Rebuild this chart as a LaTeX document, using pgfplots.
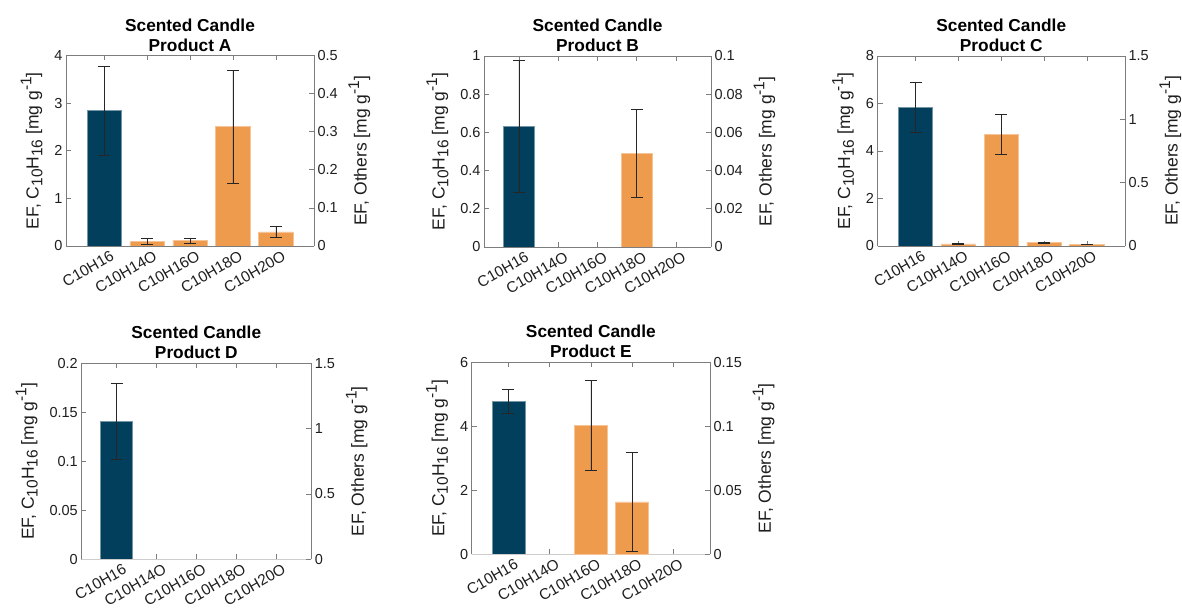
\documentclass[border=0pt]{standalone}
\usepackage{fontspec}
\setmainfont{Liberation Sans}
\usepackage{pgfplots}
\pgfplotsset{compat=1.18}
\definecolor{cblue}{RGB}{2,63,92}
\definecolor{corange}{RGB}{238,155,78}
\definecolor{axgray}{RGB}{125,125,125}
\definecolor{basegray}{RGB}{205,205,205}
\definecolor{txt}{RGB}{30,30,30}
\newcommand{\tsub}[1]{\raisebox{-0.4ex}{\fontsize{15.5}{15.5}\selectfont #1}}
\newcommand{\tsup}[1]{\raisebox{0.8ex}{\fontsize{15.5}{15.5}\selectfont #1}}
\newcommand{\lbl}{EF, C\tsub{10}H\tsub{16} [mg g\tsup{-1}]}
\newcommand{\rlbl}{EF, Others [mg g\tsup{-1}]}
\pgfplotsset{
  common/.style={
    scale only axis, anchor=south west,
    xmin=0.11, xmax=5.89, ymin=0,
    ybar, bar width=0.8,
    tick align=inside, major tick length=5pt,
    axis line style={axgray, line width=0.6pt},
    every tick/.style={axgray, line width=0.6pt},
    tick label style={font=\fontsize{14.5}{17}\selectfont, text=txt},
    label style={font=\fontsize{17.5}{20}\selectfont, text=txt},
    /pgf/number format/assume math mode=true,
    scaled y ticks=false,
    yticklabel style={/pgf/number format/fixed, /pgf/number format/precision=3},
    error bars/error bar style={line width=0.6pt, black!85},
    error bars/error mark options={rotate=90, mark size=6pt, line width=0.6pt, black!85},
  },
  leftax/.style={common, axis y line*=left,
    xtick={1,2,3,4,5}, xtick pos=both,
    xticklabels={C10H16,C10H14O,C10H16O,C10H18O,C10H20O},
    x tick label style={rotate=30, anchor=north east, inner sep=1pt, xshift=4pt, yshift=-5pt, font=\fontsize{15.3}{17}\selectfont},
    title style={font=\bfseries\fontsize{17.3}{20}\selectfont, align=center, text=black, inner sep=0pt, yshift=-2pt},
    ylabel=\lbl, ylabel style={yshift=5pt},
  },
  rightax/.style={common, axis y line*=right, hide x axis, ylabel=\rlbl, ylabel style={yshift=-4pt}},
  bblue/.style={fill=cblue, draw=cblue!55!white, line width=0.6pt},
  borange/.style={fill=corange, draw=corange!60!white, line width=0.6pt},
}
\begin{document}
\begin{tikzpicture}
\path[use as bounding box] (0,0) rectangle (1182pt,613pt);
% ---------- A
\begin{axis}[leftax, at={(66pt,367pt)}, width=248pt, height=190.5pt,
  ymax=4, ytick={0,1,2,3,4}, title={Scented Candle\\Product A}]
\addplot[bblue, error bars/.cd, y dir=both, y explicit] coordinates {(1,2.84) +- (0,0.935)};
\draw[basegray, line width=0.8pt] (rel axis cs:0,0) -- (rel axis cs:1,0);
\end{axis}
\begin{axis}[rightax, at={(66pt,367pt)}, width=248pt, height=190.5pt,
  ymax=0.5, ytick={0,0.1,0.2,0.3,0.4,0.5}]
\addplot[borange, error bars/.cd, y dir=both, y explicit] coordinates {
(2,0.012) +- (0,0.007)
(3,0.014) +- (0,0.0075)
(4,0.313) +- (0,0.148)
(5,0.037) +- (0,0.015)};
\end{axis}
% ---------- B
\begin{axis}[leftax, at={(484pt,366pt)}, width=227pt, height=191pt,
  ymax=1, ytick={0,0.2,0.4,0.6,0.8,1}, title={Scented Candle\\Product B}]
\addplot[bblue, error bars/.cd, y dir=both, y explicit] coordinates {(1,0.63) +- (0,0.345)};
\draw[basegray, line width=0.8pt] (rel axis cs:0,0) -- (rel axis cs:1,0);
\end{axis}
\begin{axis}[rightax, at={(484pt,366pt)}, width=227pt, height=191pt,
  ymax=0.1, ytick={0,0.02,0.04,0.06,0.08,0.1}]
\addplot[borange, error bars/.cd, y dir=both, y explicit] coordinates {
(4,0.049) +- (0,0.023)};
\end{axis}
% ---------- C
\begin{axis}[leftax, at={(877.5pt,367pt)}, width=247.5pt, height=190pt,
  ymax=8, ytick={0,2,4,6,8}, title={Scented Candle\\Product C}]
\addplot[bblue, error bars/.cd, y dir=both, y explicit] coordinates {(1,5.84) +- (0,1.04)};
\draw[basegray, line width=0.8pt] (rel axis cs:0,0) -- (rel axis cs:1,0);
\end{axis}
\begin{axis}[rightax, at={(877.5pt,367pt)}, width=247.5pt, height=190pt,
  ymax=1.5, ytick={0,0.5,1,1.5}]
\addplot[borange, error bars/.cd, y dir=both, y explicit] coordinates {
(2,0.016) +- (0,0.004)
(3,0.882) +- (0,0.16)
(4,0.026) +- (0,0.004)
(5,0.013) +- (0,0.003)};
\end{axis}
% ---------- D
\begin{axis}[leftax, at={(81.3pt,53.7pt)}, width=230pt, height=196pt,
  ymax=0.2, ytick={0,0.05,0.1,0.15,0.2}, title={Scented Candle\\Product D}]
\addplot[bblue, error bars/.cd, y dir=both, y explicit] coordinates {(1,0.141) +- (0,0.039)};
\draw[basegray, line width=0.8pt] (rel axis cs:0,0) -- (rel axis cs:1,0);
\end{axis}
\begin{axis}[rightax, at={(81.3pt,53.7pt)}, width=230pt, height=196pt,
  ymax=1.5, ytick={0,0.5,1,1.5}]
\addplot[draw=none, fill=none] coordinates {(1,0)};
\end{axis}
% ---------- E
\begin{axis}[leftax, at={(471.6pt,58.7pt)}, width=238.5pt, height=192pt,
  ymax=6, ytick={0,2,4,6}, title={Scented Candle\\Product E}]
\addplot[bblue, error bars/.cd, y dir=both, y explicit] coordinates {(1,4.79) +- (0,0.37)};
\draw[basegray, line width=0.8pt] (rel axis cs:0,0) -- (rel axis cs:1,0);
\end{axis}
\begin{axis}[rightax, at={(471.6pt,58.7pt)}, width=238.5pt, height=192pt,
  ymax=0.15, ytick={0,0.05,0.1,0.15}]
\addplot[borange, error bars/.cd, y dir=both, y explicit] coordinates {
(3,0.101) +- (0,0.035)
(4,0.041) +- (0,0.039)};
\end{axis}
\end{tikzpicture}
\end{document}
